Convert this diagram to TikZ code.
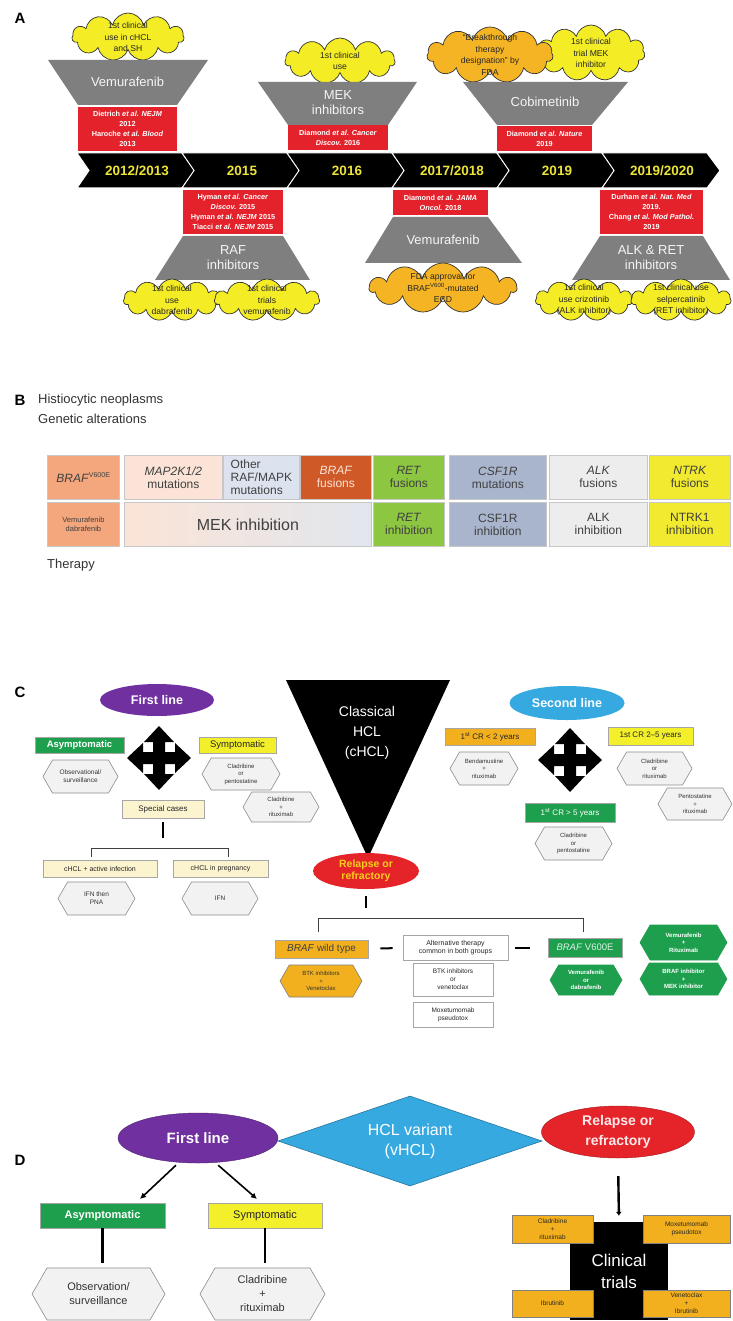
\documentclass[tikz,border=0pt]{standalone}
\usepackage{fontspec}
\setmainfont{Liberation Sans}
\usetikzlibrary{shapes.geometric,shapes.symbols,arrows.meta}

\definecolor{cloudyel}{HTML}{F4EC24}
\definecolor{cloudorg}{HTML}{F5B423}
\definecolor{trapgray}{HTML}{7F7F80}
\definecolor{refred}{HTML}{E3222B}
\definecolor{yeartxt}{HTML}{EDE43A}
\definecolor{purp}{HTML}{7030A0}
\definecolor{skyblue}{HTML}{36A9E1}
\definecolor{relred}{HTML}{E5242A}
\definecolor{relyel}{HTML}{F7D117}
\definecolor{boxgreen}{HTML}{1E9F4E}
\definecolor{boxyel}{HTML}{F3EF2A}
\definecolor{boxorg}{HTML}{F2B01E}
\definecolor{cream}{HTML}{FCF3CF}
\definecolor{hexfill}{HTML}{F2F2F2}
\definecolor{hexline}{HTML}{8C8C8C}
\definecolor{salmon}{HTML}{F4A67C}
\definecolor{peach}{HTML}{FBE4D7}
\definecolor{paleblue}{HTML}{DCE3EE}
\definecolor{rust}{HTML}{D05A27}
\definecolor{leaf}{HTML}{8DC641}
\definecolor{slate}{HTML}{A9B5CC}
\definecolor{lightgrey}{HTML}{EDEDED}
\definecolor{ntrkyel}{HTML}{F2EA2E}
\definecolor{txtgrey}{HTML}{404040}

\newcommand{\fsz}[2]{\fontsize{#1}{#2}\selectfont}

\tikzstyle{panel}=[font=\bfseries\fsz{15}{15}, inner sep=0pt]
\tikzstyle{chev}=[fill=black, draw=white, line width=1pt]
\tikzstyle{year}=[text=yeartxt, font=\bfseries\fsz{13.5}{14}]
\tikzstyle{trap}=[fill=trapgray]
\tikzstyle{drug}=[text=white!92!trapgray, align=center, inner sep=0pt, font=\fsz{13}{15}]
\tikzstyle{paper}=[fill=refred, text=white, align=center, inner sep=0pt, font=\bfseries\fsz{7.3}{10}]
\tikzstyle{puff}=[cloud, cloud puffs=11, cloud ignores aspect, draw=black!80, line width=0.7pt, inner sep=0pt]
\tikzstyle{cltxt}=[align=center, inner sep=0pt, text=black!85, font=\fsz{8.6}{11.5}]
\tikzstyle{head}=[font=\fsz{13}{14}, text=black!80, inner sep=0pt, anchor=west]
\tikzstyle{cell}=[draw=black!22, line width=0.8pt, anchor=north west, minimum height=44pt, align=center, inner sep=1pt, text=txtgrey, font=\fsz{12}{13}]
\tikzstyle{oval}=[ellipse, inner sep=0pt, align=center, text=white, font=\bfseries\fsz{12.5}{14}]
\tikzstyle{tag}=[draw=black!35, line width=0.6pt, inner sep=0pt, align=center, text=black!85, font=\fsz{7}{8}]
\tikzstyle{hexa}=[signal, signal to=east and west, signal pointer angle=120, draw=hexline, fill=hexfill, line width=0.6pt, inner sep=0pt, align=center, text=black!80, font=\fsz{6}{7.5}]
\tikzstyle{trialbox}=[fill=boxorg, draw=black!50, line width=0.5pt, inner sep=0pt, align=center, text=black!85, font=\fsz{6.5}{8}]
\tikzstyle{bar}=[line width=2.4pt]
\tikzstyle{brk}=[line width=0.9pt, draw=black!75]
\tikzstyle{arr}=[line width=1.6pt, -{Latex[length=6pt,width=6pt]}]

\tikzset{wh/.style 2 args={minimum width=#1pt, minimum height=#2pt},
  cross4/.pic={\fill[black] (32,0) -- (16,15) -- (16,6) -- (6,6) -- (6,16) -- (15,16) -- (0,32)
    -- (-15,16) -- (-6,16) -- (-6,6) -- (-16,6) -- (-16,15) -- (-32,0) -- (-16,-15) -- (-16,-6)
    -- (-6,-6) -- (-6,-16) -- (-15,-16) -- (0,-32) -- (15,-16) -- (6,-16) -- (6,-6) -- (16,-6)
    -- (16,-15) -- cycle;}}

\begin{document}
\begin{tikzpicture}[x=1pt, y=-1pt]
\useasboundingbox[fill=white] (0,0) rectangle (732,1321);

%%% A : timeline
\node[panel] (la) at (20,18) {A};
\foreach \yr [count=\i from 0, evaluate=\i as \s using {77+105*\i}] in {2012/2013,2015,2016,2017/2018,2019,2019/2020}{
  \fill[chev] (\s,153) -- ++(105,0) -- ++(13,17.5) -- ++(-13,17.5) -- ++(-105,0) -- ++(12,-17.5) -- cycle;
  \node[year] (yr\i) at (\s+60,170.5) {\yr};
}

% 2012/2013
\node[puff, fill=cloudyel, wh={112}{48}, label={[cltxt]center:{1st clinical\\use in cHCL\\and SH}}] (cl1) at (128,37) {};
\fill[trap] (48,60) -- (208,60) -- (177,105) -- (78,105) -- cycle;
\node[drug] (vem1) at (127.5,82) {Vemurafenib};
\node[paper, wh={99}{44}] (ref1) at (127.5,129) {Dietrich \textit{et al. NEJM}\\2012\\Haroche \textit{et al. Blood}\\2013};

% 2016
\node[puff, fill=cloudyel, wh={110}{46}, label={[cltxt]center:{1st clinical\\use}}] (cl2) at (340,61) {};
\fill[trap] (258,82) -- (417,82) -- (388,125) -- (288,125) -- cycle;
\node[drug] (mek) at (338,103) {MEK\\inhibitors};
\node[paper, wh={100}{25}] (ref2) at (338,138) {Diamond \textit{et al. Cancer}\\\textit{Discov.} 2016};

% 2019
\node[puff, fill=cloudyel, wh={108}{56}, label={[cltxt]center:{1st clinical\\trial MEK\\inhibitor}}] (cl3b) at (591,53) {};
\node[puff, fill=cloudorg, wh={126}{56}, label={[cltxt]center:{“Breakthrough\\therapy\\designation” by\\FDA}}] (cl3a) at (490,55) {};
\fill[trap] (463,82) -- (628,82) -- (592,125) -- (497,125) -- cycle;
\node[drug] (cobi) at (545,102) {Cobimetinib};
\node[paper, wh={95}{25}] (ref3) at (544.5,138.5) {Diamond \textit{et al. Nature}\\2019};

% 2015
\node[paper, wh={100}{44}] (ref4) at (233,212) {Hyman \textit{et al. Cancer}\\\textit{Discov.} 2015\\Hyman \textit{et al. NEJM} 2015\\Tiacci \textit{et al. NEJM} 2015};
\fill[trap] (183,236) -- (283,236) -- (310,280) -- (155,280) -- cycle;
\node[drug] (raf) at (233,258) {RAF\\inhibitors};
\node[puff, fill=cloudyel, wh={97}{42}, label={[cltxt]center:{1st clinical\\use\\dabrafenib}}] (cl4a) at (172,300) {};
\node[puff, fill=cloudyel, wh={105}{42}, label={[cltxt]center:{1st clinical\\trials\\vemurafenib}}] (cl4b) at (267,300) {};

% 2017/2018
\node[paper, wh={95}{25}] (ref5) at (440.5,202.5) {Diamond \textit{et al. JAMA}\\\textit{Oncol.} 2018};
\fill[trap] (393,217) -- (488,217) -- (522,263) -- (365,263) -- cycle;
\node[drug] (vem2) at (443,240) {Vemurafenib};
\node[puff, fill=cloudorg, wh={147}{50}, label={[cltxt]center:{FDA approval for\\BRAF\textsuperscript{V600}-mutated\\ECD}}] (cl5) at (443,288) {};

% 2019/2020
\node[paper, wh={103}{44}] (ref6) at (651.5,212) {Durham \textit{et al. Nat. Med}\\2019.\\Chang \textit{et al. Mod Pathol.}\\2019};
\fill[trap] (600,236) -- (703,236) -- (730,280) -- (572,280) -- cycle;
\node[drug] (alkret) at (651,258) {ALK \& RET\\inhibitors};
\node[puff, fill=cloudyel, wh={97}{42}, label={[cltxt]center:{1st clinical\\use crizotinib\\(ALK inhibitor)}}] (cl6a) at (584,300) {};
\node[puff, fill=cloudyel, wh={100}{42}, label={[cltxt]center:{1st clinical use\\selpercatinib\\(RET inhibitor)}}] (cl6b) at (681,300) {};

%%% B : alterations and therapy
\node[panel] (lb) at (20,400) {B};
\node[head] (hist) at (38,400) {Histiocytic neoplasms};
\node[head] (genalt) at (38,419) {Genetic alterations};

\node[cell, fill=salmon, wh={72}{44}] (braf) at (47,455) {\textit{BRAF}\textsuperscript{\fsz{7}{7}V600E}};
\node[cell, fill=peach, wh={98}{44}] (map) at (124,455) {\textit{MAP2K1/2}\\mutations};
\node[cell, fill=paleblue, wh={76}{44}, align=left] (other) at (223,455) {Other\\RAF/MAPK\\mutations};
\node[cell, fill=rust, text=peach, wh={71}{44}] (braffus) at (300,455) {\textit{BRAF}\\fusions};
\node[cell, fill=leaf, wh={71}{44}] (retfus) at (373,455) {\textit{RET}\\fusions};
\node[cell, fill=slate, wh={97}{44}] (csf) at (449,455) {\textit{CSF1R}\\mutations};
\node[cell, fill=lightgrey, wh={98}{44}] (alkfus) at (549,455) {\textit{ALK}\\fusions};
\node[cell, fill=ntrkyel, wh={81}{44}] (ntrkfus) at (649,455) {\textit{NTRK}\\fusions};

\node[cell, fill=salmon, wh={72}{44}, font=\fsz{7.5}{9}] (vemdab0) at (47,502) {Vemurafenib\\dabrafenib};
\node[cell, left color=peach, right color=paleblue!70!lightgrey, wh={247}{44}, font=\fsz{16}{17}] (mekinh) at (124,502) {MEK inhibition};
\node[cell, fill=leaf, wh={71}{44}] (retinh) at (373,502) {\textit{RET}\\inhibition};
\node[cell, fill=slate, wh={97}{44}] (csfinh) at (449,502) {CSF1R\\inhibition};
\node[cell, fill=lightgrey, wh={98}{44}] (alkinh) at (549,502) {ALK\\inhibition};
\node[cell, fill=ntrkyel, wh={81}{44}] (ntrkinh) at (649,502) {NTRK1\\inhibition};
\node[head] (ther) at (47,565) {Therapy};

%%% C : classical HCL
\node[panel] (lc) at (20,692) {C};
\fill[black] (286,680) -- (450,680) -- (368,858) -- cycle;
\node[align=center, text=white, inner sep=0pt, font=\fsz{14}{20}] (chcl) at (367,733) {Classical\\HCL\\(cHCL)};

% first line
\node[oval, fill=purp, wh={114}{32}] (fl) at (157,700) {First line};
\pic at (159,758) {cross4};
\node[tag, fill=boxgreen, text=white, wh={89}{16}, font=\bfseries\fsz{9.5}{10}] (asym) at (79.5,745) {Asymptomatic};
\node[tag, fill=boxyel, wh={77}{16}, font=\fsz{9.5}{10}] (symp) at (237.5,745) {Symptomatic};
\node[hexa, wh={75}{33}, font=\fsz{6.5}{8}] (obs) at (80.5,776.5) {Observational/\\surveillance};
\node[hexa, wh={78}{32}] (cladpen) at (241,774) {Cladribine\\or\\pentostatine};
\node[hexa, wh={76}{30}] (cladrit) at (281,807) {Cladribine\\+\\rituximab};
\node[tag, fill=cream, wh={82}{18}, font=\fsz{8}{9}] (spec) at (163,809) {Special cases};
\node[tag, fill=cream, wh={114}{17}] (inf) at (100,868.5) {cHCL + active infection};
\node[tag, fill=cream, wh={95}{17}] (preg) at (220.5,868.5) {cHCL in pregnancy};
\node[hexa, wh={77}{33}, font=\fsz{6.5}{8}] (ifnpna) at (96.5,898.5) {IFN then\\PNA};
\node[hexa, wh={76}{33}, font=\fsz{6.5}{8}] (ifn) at (220,898.5) {IFN};
\coordinate (sb1) at (91,848);
\coordinate (sb2) at (228,848);
\draw[bar, shorten <=4pt, shorten >=10pt] (spec.south) -- (spec.south |- sb1);
\draw[brk] (sb1 |- inf.north) ++(0,-3) -- (sb1) -- (sb2) -- ++(0,9);

% second line
\node[oval, fill=skyblue, wh={115}{34}] (sl) at (567,703) {Second line};
\pic at (570,760) {cross4};
\node[tag, fill=boxorg, wh={90}{17}, font=\fsz{8}{9}] (cr2) at (490,736.5) {1\textsuperscript{st} CR {<} 2 years};
\node[tag, fill=boxyel, wh={85}{18}, font=\fsz{8}{9}] (cr25) at (650.5,736) {1st CR 2–5 years};
\node[hexa, wh={68}{33}] (benda) at (484,768.5) {Bendamustine\\+\\rituximab};
\node[hexa, wh={75}{33}] (cladrit2) at (654.5,768.5) {Cladribine\\or\\rituximab};
\node[hexa, wh={74}{32}] (pento) at (695,804) {Pentostatine\\+\\rituximab};
\node[tag, fill=boxgreen, text=white, wh={90}{19}, font=\fsz{8}{9}] (cr5) at (570,812.5) {1\textsuperscript{st} CR {>} 5 years};
\node[hexa, wh={77}{33}] (cladpen2) at (573.5,843.5) {Cladribine\\or\\pentostatine};

% relapse
\node[oval, fill=relred, text=relyel, wh={106}{36}, font=\bfseries\fsz{10.5}{12}] (rel) at (366,871) {Relapse or\\refractory};
\coordinate (rb1) at (318,918);
\coordinate (rb2) at (583,918);
\draw[bar, shorten <=7pt, shorten >=10pt] (rel.south) -- (rel.south |- rb1);
\draw[brk] (rb1) ++(0,14) -- (rb1) -- (rb2) -- ++(0,14);
\node[tag, fill=boxorg, wh={93}{18}, text=black!75, font=\fsz{10}{11}] (wt) at (321.5,949) {\textit{BRAF} wild type};
\node[tag, fill=white, wh={105}{25}] (alt) at (455.5,947.5) {Alternative therapy\\common in both groups};
\node[tag, fill=boxgreen, text=white!85!boxgreen, wh={74}{19}, font=\fsz{9.5}{10}] (v600) at (585,947.5) {\textit{BRAF} V600E};
\draw[bar, line width=2pt, shorten <=12pt, shorten >=10pt] (wt) -- (alt);
\draw[bar, line width=2pt, shorten <=7pt, shorten >=18pt] (alt) -- (v600);
\node[hexa, fill=boxorg, draw=black!50, wh={82}{32}] (btkven) at (321,981) {BTK inhibitors\\+\\Venetoclax};
\node[tag, fill=white, wh={80}{33}, font=\fsz{6.5}{8}] (btkor) at (453,979.5) {BTK inhibitors\\or\\venetoclax};
\node[tag, fill=white, wh={80}{25}, font=\fsz{6.5}{8}] (moxe) at (453,1014.5) {Moxetumomab\\pseudotox};
\node[hexa, fill=boxgreen, draw=boxgreen, text=white, wh={72}{30}, font=\bfseries\fsz{6}{7.5}] (vemdab) at (586,980) {Vemurafenib\\or\\dabrafenib};
\node[hexa, fill=boxgreen, draw=boxgreen, text=white, wh={87}{35}, font=\bfseries\fsz{6}{7.5}] (vemrit) at (683.5,942.5) {Vemurafenib\\+\\Rituximab};
\node[hexa, fill=boxgreen, draw=boxgreen, text=white, wh={87}{32}, font=\bfseries\fsz{6}{7.5}] (brafmek) at (683.5,979) {BRAF inhibitor\\+\\MEK inhibitor};

%%% D : HCL variant
\node[panel] (ld) at (20,1160) {D};
\node[diamond, aspect=3, fill=skyblue, draw=skyblue!70!black, line width=0.6pt, wh={264}{90}, inner sep=0pt, align=center, text=white, font=\fsz{16}{20}] (vhcl) at (410,1141) {HCL variant\\(vHCL)};
\node[oval, fill=purp, draw=purp!70!black, wh={160}{50}, font=\bfseries\fsz{15}{17}] (fl2) at (198,1138) {First line};
\node[oval, fill=relred, draw=relred!70!black, text=white!90!relred, wh={153}{52}, font=\bfseries\fsz{14}{20}] (rel2) at (618,1132) {Relapse or\\refractory};
\node[tag, fill=boxgreen, text=white, wh={125}{25}, font=\bfseries\fsz{11}{12}] (asym2) at (102.5,1215.5) {Asymptomatic};
\node[tag, fill=boxyel, wh={114}{25}, font=\fsz{11}{12}] (symp2) at (265,1215.5) {Symptomatic};
\coordinate (as2in) at (140,1199);
\coordinate (sy2in) at (257,1199);
\draw[arr, shorten <=4pt] (fl2.-128) -- (as2in);
\draw[arr, shorten <=4pt] (fl2.-55) -- (sy2in);
\node[hexa, wh={133}{52}, font=\fsz{11}{14}] (obs2) at (98.5,1294) {Observation/\\surveillance};
\node[hexa, wh={125}{52}, font=\fsz{11}{14}] (clrit2) at (262.5,1294) {Cladribine\\+\\rituximab};
\draw[bar, shorten >=5pt] (asym2.south) -- (asym2.south |- obs2.north);
\draw[bar, shorten >=5pt] (symp2.south) -- (symp2.south |- clrit2.north);

\node[fill=black, wh={98}{98}, inner sep=0pt, align=center, text=white, font=\fsz{17}{22}] (trials) at (619,1271) {Clinical\\trials};
\draw[bar, -{Latex[length=4pt,width=6pt]}, shorten <=18pt, shorten >=6pt] (rel2.south) -- (trials.north);
\node[trialbox, wh={81}{28}] (t1) at (552.5,1229) {Cladribine\\+\\rituximab};
\node[trialbox, wh={87}{28}] (t2) at (686.5,1229) {Moxetumomab\\pseudotox};
\node[trialbox, wh={81}{27}] (t3) at (552.5,1303.5) {Ibrutinib};
\node[trialbox, wh={87}{27}] (t4) at (686.5,1303.5) {Venetoclax\\+\\Ibrutinib};
\end{tikzpicture}
\end{document}
